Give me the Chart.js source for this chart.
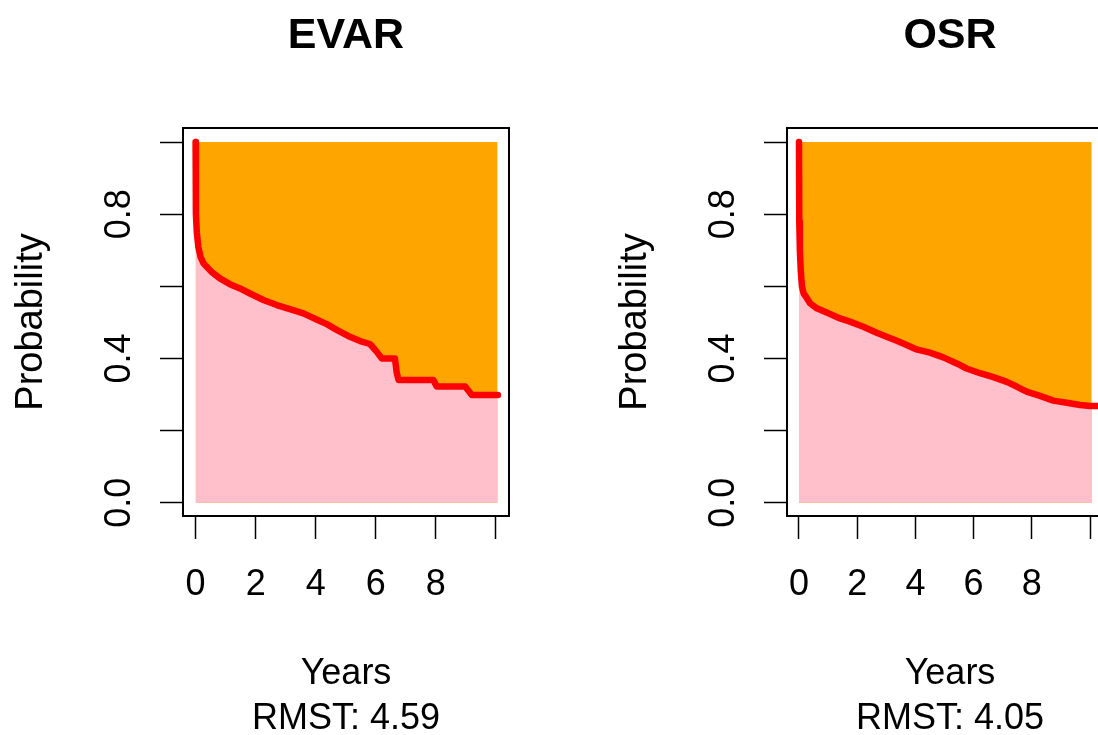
<!DOCTYPE html>
<html>
<head>
<meta charset="utf-8">
<title>EVAR vs OSR - RMST</title>
<script src="https://cdn.jsdelivr.net/npm/chart.js@4.4.1/dist/chart.umd.min.js"></script>
<style>
  html, body { margin: 0; padding: 0; background: #fff; overflow: hidden; width: 1098px; height: 735px; }
  .panel { position: absolute; top: 0; }
  .panel canvas { display: block; }
  #evarWrap { left: 0; }
  #osrWrap { left: 604px; }
</style>
</head>
<body>
<div class="panel" id="evarWrap"><canvas id="evarChart" width="549" height="735"></canvas></div>
<div class="panel" id="osrWrap"><canvas id="osrChart" width="549" height="735"></canvas></div>
<script>
// Survival curves (years, probability)
const evarYears = [0, 0.01, 0.04, 0.09, 0.17, 0.26, 0.53, 0.81, 1.14, 1.48, 1.81, 2.26, 2.7, 3.14, 3.59, 4.03, 4.37, 4.7, 5.14, 5.48, 5.81, 6.03, 6.2, 6.64, 6.7, 6.76, 7.92, 8.03, 8.98, 9.2, 10.07];
const evarSurv  = [1.0, 0.8, 0.75, 0.71, 0.68, 0.664, 0.64, 0.622, 0.606, 0.594, 0.58, 0.562, 0.548, 0.537, 0.525, 0.508, 0.495, 0.479, 0.46, 0.448, 0.44, 0.419, 0.4, 0.4, 0.36, 0.34, 0.34, 0.322, 0.322, 0.2985, 0.2985];

const osrYears = [0, 0.01, 0.03, 0.06, 0.1, 0.16, 0.24, 0.38, 0.61, 1.01, 1.41, 1.75, 2.21, 2.67, 3.01, 3.36, 3.7, 4.04, 4.5, 4.96, 5.42, 5.76, 6.22, 6.68, 7.14, 7.48, 7.82, 8.28, 8.74, 9.2, 9.66, 10.0, 10.37];
const osrSurv  = [1.0, 0.78, 0.7, 0.645, 0.6, 0.58, 0.571, 0.553, 0.539, 0.525, 0.511, 0.502, 0.488, 0.471, 0.46, 0.449, 0.437, 0.425, 0.416, 0.403, 0.386, 0.372, 0.359, 0.348, 0.335, 0.322, 0.308, 0.296, 0.283, 0.277, 0.271, 0.268, 0.268];

// RMST values and truncation time
const rmstValues = { EVAR: "4.59", OSR: "4.05" };
const tau = 10.06;

// Ticks
const xTickValues = [0, 2, 4, 6, 8, 10];
const xTickLabels = ["0", "2", "4", "6", "8", ""];
const yTickValues = [0, 0.2, 0.4, 0.6, 0.8, 1.0];
const yTickLabels = ["0.0", "", "0.4", "", "0.8", ""];

const FONT = "'Liberation Sans', Arial, Helvetica, sans-serif";
Chart.defaults.font.family = FONT;
Chart.defaults.color = "#000";

// box round the plot region, like R's bty="o"
const plotBox = {
  id: "plotBox",
  afterDraw(chart) {
    const { ctx, chartArea: a } = chart;
    ctx.save();
    ctx.strokeStyle = "#000";
    ctx.lineWidth = 2;
    ctx.strokeRect(a.left, a.top, a.right - a.left, a.bottom - a.top);
    ctx.restore();
  }
};

function toPoints(xs, ys) {
  return xs.map((x, i) => ({ x: x, y: ys[i] }));
}

// part of the curve up to tau (for the pink area)
function cutAt(xs, ys, t) {
  const pts = [];
  for (let i = 0; i < xs.length; i++) {
    if (xs[i] <= t) pts.push({ x: xs[i], y: ys[i] });
  }
  const last = pts[pts.length - 1];
  if (last.x < t) pts.push({ x: t, y: last.y });
  return pts;
}

function renderPanel(canvasId, title, years, surv, xMin, xMax) {
  const ctx = document.getElementById(canvasId).getContext("2d");
  new Chart(ctx, {
    type: "line",
    data: {
      datasets: [
        {
          label: "curve",
          data: toPoints(years, surv),
          borderColor: "#FF0000",
          borderWidth: 6.5,
          borderCapStyle: "round",
          borderJoinStyle: "round",
          pointRadius: 0,
          tension: 0,
          fill: false
        },
        {
          label: "below",
          data: cutAt(years, surv, tau),
          borderColor: "rgba(0,0,0,0)",
          borderWidth: 0,
          pointRadius: 0,
          backgroundColor: "#FFC0CB",
          fill: "origin"
        },
        {
          label: "above",
          data: [{ x: 0, y: 1 }, { x: tau, y: 1 }],
          borderColor: "rgba(0,0,0,0)",
          borderWidth: 0,
          pointRadius: 0,
          backgroundColor: "#FFA500",
          fill: "origin"
        }
      ]
    },
    options: {
      responsive: false,
      animation: false,
      layout: { padding: { left: 0, top: 0, right: 40, bottom: 0 } },
      scales: {
        x: {
          type: "linear",
          min: xMin,
          max: xMax,
          afterFit: (s) => { s.height = 219; },
          afterBuildTicks: (s) => { s.ticks = xTickValues.map(v => ({ value: v })); },
          border: { display: false },
          grid: { drawOnChartArea: false, drawTicks: true, tickLength: 23, tickColor: "#000", tickWidth: 1.5 },
          ticks: {
            autoSkip: false,
            maxRotation: 0,
            padding: 24,
            color: "#000",
            font: { size: 36 },
            callback: (v) => xTickLabels[xTickValues.indexOf(v)] ?? ""
          },
          title: {
            display: true,
            text: ["Years", "RMST: " + rmstValues[title]],
            color: "#000",
            font: { size: 36, lineHeight: 1.264 },
            padding: { top: 0, bottom: -7 }
          }
        },
        y: {
          type: "linear",
          min: -0.037,
          max: 1.039,
          afterFit: (s) => { s.width = 183; },
          afterBuildTicks: (s) => { s.ticks = yTickValues.map(v => ({ value: v })); },
          border: { display: false },
          grid: { drawOnChartArea: false, drawTicks: true, tickLength: 23, tickColor: "#000", tickWidth: 1.5 },
          ticks: {
            autoSkip: false,
            minRotation: 90,
            maxRotation: 90,
            crossAlign: "center",
            padding: 15,
            color: "#000",
            font: { size: 36 },
            callback: (v) => yTickLabels[yTickValues.indexOf(v)] ?? ""
          },
          title: {
            display: true,
            text: "Probability",
            color: "#000",
            font: { size: 38 },
            padding: { top: 9, bottom: 0 }
          }
        }
      },
      plugins: {
        legend: { display: false },
        tooltip: { enabled: false },
        title: {
          display: true,
          text: title,
          fullSize: false,
          color: "#000",
          font: { size: 43, weight: "bold", lineHeight: 1.2 },
          padding: { top: 10, bottom: 66.4 }
        }
      }
    },
    plugins: [plotBox]
  });
}

renderPanel("evarChart", "EVAR", evarYears, evarSurv, -0.42, 10.44);
renderPanel("osrChart", "OSR", osrYears, osrSurv, -0.412, 10.79);
</script>
</body>
</html>
